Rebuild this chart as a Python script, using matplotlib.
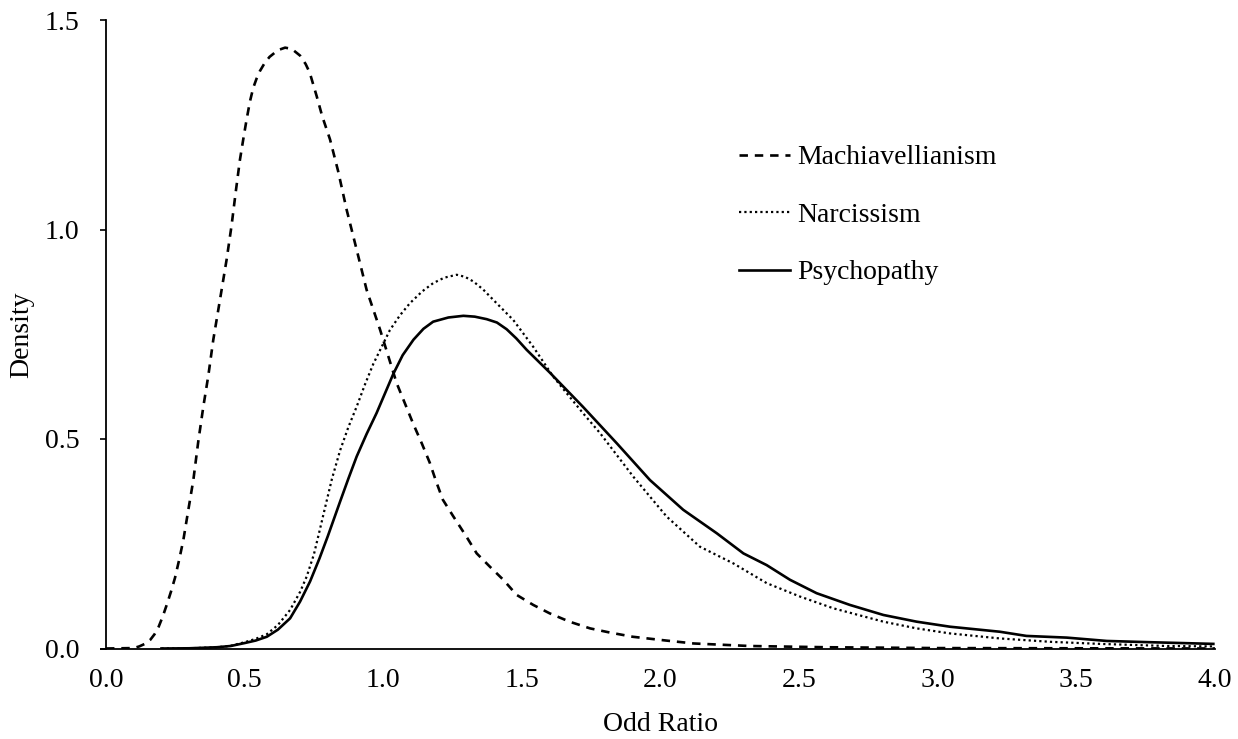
import numpy as np
import matplotlib

matplotlib.use("Agg")
import matplotlib.pyplot as plt

# values (odd ratio -> density)
mach_x = [0.0, 0.1, 0.12, 0.14, 0.16, 0.175, 0.19, 0.205, 0.22, 0.235, 0.249, 0.264,
          0.279, 0.297, 0.315, 0.333, 0.351, 0.369, 0.387, 0.411, 0.435, 0.453, 0.468,
          0.483, 0.495, 0.507, 0.519, 0.531, 0.543, 0.555, 0.572, 0.59, 0.62, 0.646,
          0.67, 0.70, 0.72, 0.735, 0.76, 0.78, 0.808, 0.837, 0.868, 0.904, 0.94, 0.988,
          1.048, 1.107, 1.14, 1.168, 1.19, 1.215, 1.253, 1.30, 1.337, 1.385, 1.433,
          1.481, 1.541, 1.60, 1.672, 1.746, 1.818, 1.90, 2.02, 2.12, 2.32, 2.6, 3.0,
          3.5, 4.0]
mach_y = [0.0, 0.001, 0.005, 0.011, 0.021, 0.034, 0.052, 0.077, 0.106, 0.137, 0.169, 0.212,
          0.259, 0.331, 0.402, 0.495, 0.577, 0.651, 0.737, 0.832, 0.928, 1.01, 1.09,
          1.166, 1.215, 1.262, 1.305, 1.338, 1.36, 1.378, 1.397, 1.412, 1.428, 1.434,
          1.431, 1.415, 1.395, 1.374, 1.318, 1.27, 1.215, 1.14, 1.047, 0.952, 0.856, 0.762,
          0.634, 0.538, 0.488, 0.443, 0.40, 0.355, 0.315, 0.267, 0.227, 0.195, 0.164,
          0.128, 0.104, 0.084, 0.064, 0.048, 0.038, 0.028, 0.019, 0.012, 0.006, 0.003, 0.001,
          0.0005, 0.0]

narc_x = [0.2, 0.3, 0.4, 0.447, 0.5, 0.54, 0.58, 0.62, 0.664, 0.70, 0.724, 0.75, 0.77,
          0.79, 0.815, 0.844, 0.874, 0.904, 0.934, 0.964, 1.024, 1.06, 1.096, 1.14, 1.18,
          1.22, 1.265, 1.295, 1.325, 1.36, 1.397, 1.469, 1.541, 1.613, 1.662, 1.72, 1.782,
          1.902, 2.022, 2.142, 2.263, 2.383, 2.503, 2.623, 2.804, 2.924, 3.044, 3.104,
          3.224, 3.405, 3.585, 3.826, 3.99]
narc_y = [0.0, 0.0005, 0.003, 0.006, 0.015, 0.023, 0.034, 0.056, 0.092, 0.135, 0.172, 0.225,
          0.28, 0.336, 0.405, 0.472, 0.528, 0.577, 0.63, 0.679, 0.76, 0.795, 0.824, 0.852,
          0.872, 0.885, 0.892, 0.887, 0.876, 0.857, 0.832, 0.784, 0.72, 0.649, 0.609, 0.562,
          0.514, 0.41, 0.315, 0.243, 0.203, 0.156, 0.124, 0.096, 0.064, 0.048, 0.036,
          0.032, 0.024, 0.016, 0.011, 0.006, 0.005]

psy_x = [0.2, 0.3, 0.4, 0.45, 0.5, 0.54, 0.58, 0.62, 0.664, 0.70, 0.736, 0.77, 0.80,
         0.844, 0.874, 0.904, 0.94, 0.976, 1.036, 1.07, 1.109, 1.145, 1.18, 1.235, 1.289,
         1.33, 1.373, 1.41, 1.445, 1.48, 1.517, 1.56, 1.60, 1.66, 1.72, 1.842, 1.962, 2.082,
         2.203, 2.299, 2.383, 2.467, 2.563, 2.683, 2.804, 2.924, 3.044, 3.104, 3.224,
         3.32, 3.465, 3.61, 3.766, 3.994]
psy_y = [0.0, 0.0005, 0.003, 0.006, 0.013, 0.019, 0.028, 0.045, 0.072, 0.112, 0.16, 0.215,
         0.268, 0.35, 0.405, 0.458, 0.512, 0.562, 0.655, 0.70, 0.737, 0.763, 0.78, 0.79,
         0.794, 0.792, 0.786, 0.778, 0.762, 0.74, 0.713, 0.685, 0.659, 0.618, 0.577, 0.49,
         0.402, 0.331, 0.275, 0.227, 0.199, 0.164, 0.132, 0.104, 0.080, 0.064, 0.052, 0.048,
         0.04, 0.03, 0.026, 0.018, 0.015, 0.011]

x_ticks = [0.0, 0.5, 1.0, 1.5, 2.0, 2.5, 3.0, 3.5, 4.0]
y_ticks = [0.0, 0.5, 1.0, 1.5]

plt.rcParams["font.family"] = ["Liberation Serif", "DejaVu Serif"]
FS = 20

fig = plt.figure(figsize=(12.38, 7.39), dpi=100)
ax = fig.add_axes([106 / 1238, 1 - 648.5 / 739, (1215 - 106) / 1238, (648.5 - 20) / 739])

ax.plot(mach_x, mach_y, color="black", lw=1.9, ls=(0, (3.2, 2.6)), label="Machiavellianism")
ax.plot(narc_x, narc_y, color="black", lw=1.6, ls=(0, (1, 1.4)), label="Narcissism")
ax.plot(psy_x, psy_y, color="black", lw=1.9, ls="-", label="Psychopathy")

ax.set_xlim(0, 4)
ax.set_ylim(0, 1.5)
ax.set_xticks(x_ticks)
ax.set_yticks(y_ticks)
ax.set_xticklabels([f"{v:.1f}" for v in x_ticks], fontsize=FS)
ax.set_yticklabels([f"{v:.1f}" for v in y_ticks], fontsize=FS)
ax.tick_params(axis="x", length=0, pad=14)
ax.tick_params(axis="y", direction="out", length=4, width=1.2, pad=15)
for s in ("top", "right"):
    ax.spines[s].set_visible(False)
for s in ("left", "bottom"):
    ax.spines[s].set_linewidth(1.3)
ax.spines["bottom"].set_bounds(-0.018, 4)
ax.spines["bottom"].set_clip_on(False)

ax.set_xlabel("Odd Ratio", fontsize=FS, labelpad=14)
ax.set_ylabel("Density", fontsize=FS, labelpad=8)

ax.legend(loc="upper left", bbox_to_anchor=(739 / 1238, 1 - 145 / 739),
          bbox_transform=fig.transFigure, frameon=False, fontsize=FS,
          handlelength=1.85, handletextpad=0.25, labelspacing=1.15,
          borderpad=0, borderaxespad=0)

fig.savefig("out.png", dpi=100)
